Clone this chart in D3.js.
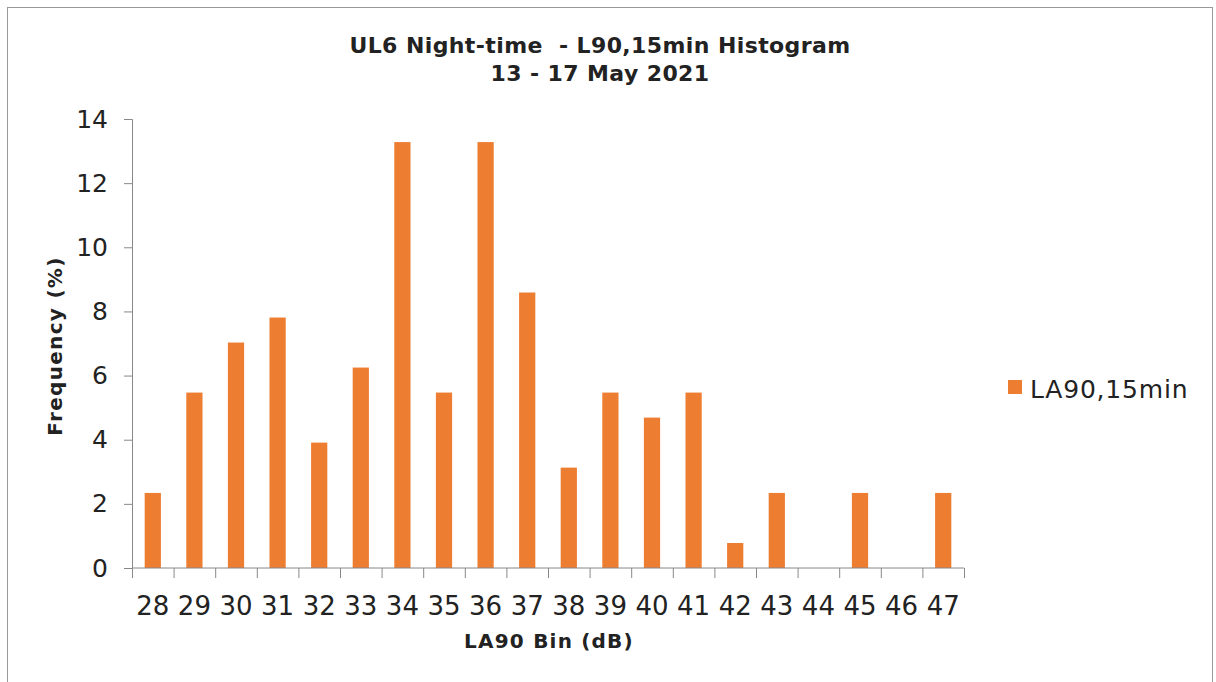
<!DOCTYPE html>
<html><head><meta charset="utf-8">
<script src="https://cdn.jsdelivr.net/npm/d3@7"></script>
<style>body{margin:0;background:#fff}svg{display:block}</style>
</head><body>
<script>
const categories = ["28","29","30","31","32","33","34","35","36","37","38","39","40","41","42","43","44","45","46","47"];
const frequency = [2.34,5.47,7.03,7.81,3.91,6.25,13.28,5.47,13.28,8.59,3.13,5.47,4.69,5.47,0.78,2.34,0,2.34,0,2.34];
const yTicks = [0,2,4,6,8,10,12,14];
const seriesName = "LA90,15min";
const titleLines = ["UL6 Night-time  - L90,15min Histogram","13 - 17 May 2021"];

const W=1216,H=682;
const svg=d3.select("body").append("svg").attr("width",W).attr("height",H);
const font="Verdana, 'DejaVu Sans', sans-serif";
svg.append("rect").attr("x",7.5).attr("y",7.5).attr("width",1205).attr("height",690)
  .attr("fill","#fff").attr("stroke","#999").attr("stroke-width",1);

const x=d3.scaleBand().domain(categories).range([132,964]).paddingInner(0.61).paddingOuter(0.305);
const y=d3.scaleLinear().domain([0,14]).range([568,119]);

svg.append("g").selectAll("rect").data(frequency).join("rect")
  .attr("x",(d,i)=>x(categories[i])).attr("width",x.bandwidth())
  .attr("y",d=>y(d)).attr("height",d=>y(0)-y(d)).attr("fill","#ED7D31");

const gy=svg.append("g").attr("transform","translate(132,0)")
  .call(d3.axisLeft(y).tickValues(yTicks).tickSize(8).tickPadding(16));
gy.selectAll("path,line").attr("stroke","#888");
gy.selectAll("text").attr("font-family",font).attr("font-size",25).attr("fill","#222");

const xb=d3.scaleLinear().domain([0,categories.length]).range([132,964]);
const gx=svg.append("g").attr("transform","translate(0,568)");
gx.append("line").attr("x1",132).attr("x2",964).attr("stroke","#888");
gx.selectAll("line.t").data(d3.range(categories.length+1)).join("line").attr("class","t")
  .attr("x1",d=>xb(d)+0.5).attr("x2",d=>xb(d)+0.5).attr("y1",0).attr("y2",10).attr("stroke","#888");
gx.selectAll("text").data(categories).join("text")
  .attr("x",d=>x(d)+x.bandwidth()/2).attr("y",47).attr("text-anchor","middle")
  .attr("font-family",font).attr("font-size",26).attr("fill","#222").text(d=>d);

svg.selectAll("text.title").data(titleLines).join("text").attr("class","title")
  .attr("x",600).attr("y",(d,i)=>53+i*28).attr("text-anchor","middle")
  .attr("font-family",font).attr("font-weight","bold").attr("font-size",22).attr("letter-spacing",0.4)
  .attr("fill","#222").style("white-space","pre").text(d=>d);

svg.append("text").attr("x",549).attr("y",648).attr("text-anchor","middle")
  .attr("font-family",font).attr("font-weight","bold").attr("font-size",20).attr("letter-spacing",1.2)
  .attr("fill","#222").text("LA90 Bin (dB)");
svg.append("text").attr("transform","translate(62,346) rotate(-90)").attr("text-anchor","middle")
  .attr("font-family",font).attr("font-weight","bold").attr("font-size",20).attr("letter-spacing",1.3)
  .attr("fill","#222").text("Frequency (%)");

svg.append("rect").attr("x",1008).attr("y",380).attr("width",14).attr("height",14).attr("fill","#ED7D31");
svg.append("text").attr("x",1030).attr("y",398).attr("font-family",font).attr("font-size",25).attr("letter-spacing",0.8)
  .attr("fill","#222").text(seriesName);
</script>
</body></html>
